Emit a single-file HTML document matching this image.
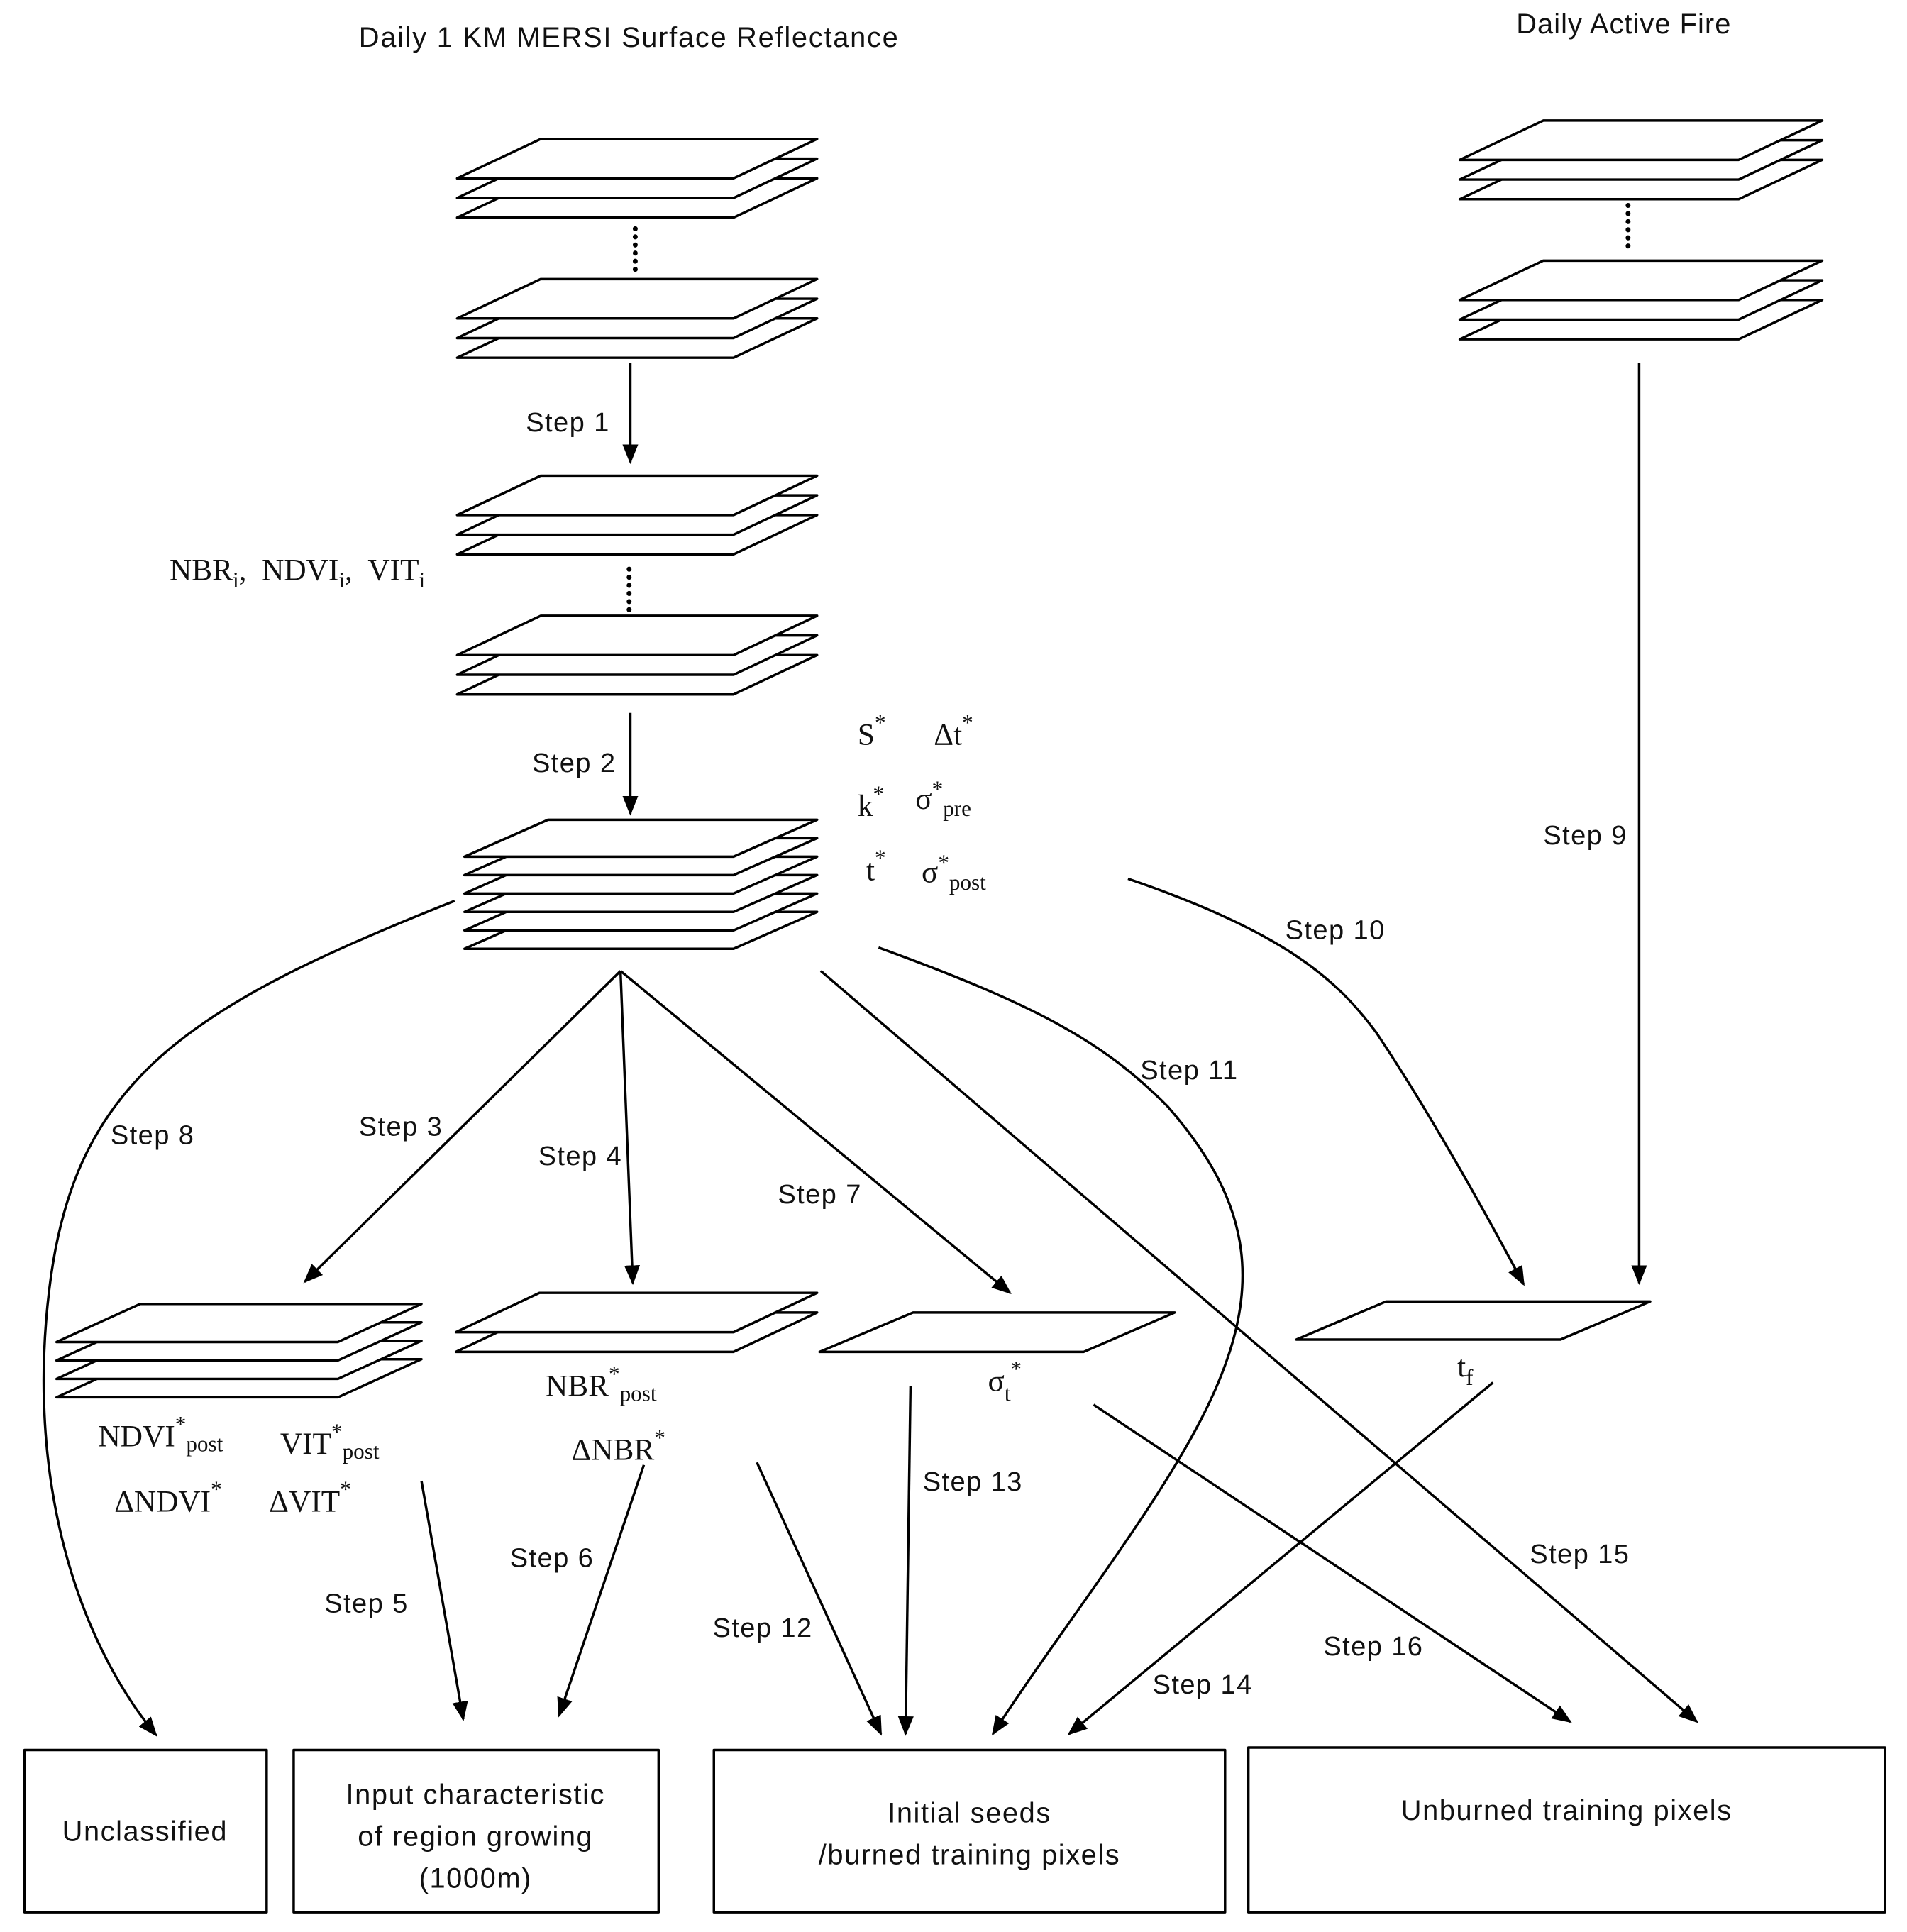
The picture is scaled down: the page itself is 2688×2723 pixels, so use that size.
<!DOCTYPE html>
<html><head><meta charset="utf-8"><style>html,body{margin:0;padding:0;background:#fff}svg{display:block}
.s{font-family:"Liberation Sans",sans-serif;font-size:22px;fill:#111;letter-spacing:0.8px}
.m{font-family:"Liberation Serif",serif;font-size:25px;fill:#111}
.m tspan.sub{font-size:18px}
.b{font-size:23px;letter-spacing:0.9px}
</style></head><body>
<svg width="2688" height="2723" viewBox="0 0 1552 1572" xmlns="http://www.w3.org/2000/svg">
<defs>
<marker id="ah" viewBox="0 0 10 10" refX="9" refY="5" markerWidth="16" markerHeight="16" markerUnits="userSpaceOnUse" orient="auto"><path d="M0,1 L10,5 L0,9 z" fill="#000"/></marker>
</defs>
<g fill="#fff" stroke="#000" stroke-width="2" stroke-linejoin="round">
<path d="M372,177 L440,145 L665,145 L597,177 Z"/><path d="M372,161 L440,129 L665,129 L597,161 Z"/><path d="M372,145 L440,113 L665,113 L597,145 Z"/>
<path d="M372,291 L440,259 L665,259 L597,291 Z"/><path d="M372,275 L440,243 L665,243 L597,275 Z"/><path d="M372,259 L440,227 L665,227 L597,259 Z"/>
<path d="M372,451 L440,419 L665,419 L597,451 Z"/><path d="M372,435 L440,403 L665,403 L597,435 Z"/><path d="M372,419 L440,387 L665,387 L597,419 Z"/>
<path d="M372,565 L440,533 L665,533 L597,565 Z"/><path d="M372,549 L440,517 L665,517 L597,549 Z"/><path d="M372,533 L440,501 L665,501 L597,533 Z"/>
<path d="M378,772 L446,742 L665,742 L597,772 Z"/><path d="M378,757 L446,727 L665,727 L597,757 Z"/><path d="M378,742 L446,712 L665,712 L597,742 Z"/><path d="M378,727 L446,697 L665,697 L597,727 Z"/><path d="M378,712 L446,682 L665,682 L597,712 Z"/><path d="M378,697 L446,667 L665,667 L597,697 Z"/>
<path d="M1188,162 L1256,130 L1483,130 L1415,162 Z"/><path d="M1188,146 L1256,114 L1483,114 L1415,146 Z"/><path d="M1188,130 L1256,98 L1483,98 L1415,130 Z"/>
<path d="M1188,276 L1256,244 L1483,244 L1415,276 Z"/><path d="M1188,260 L1256,228 L1483,228 L1415,260 Z"/><path d="M1188,244 L1256,212 L1483,212 L1415,244 Z"/>
<path d="M46,1137 L114,1106 L343,1106 L275,1137 Z"/><path d="M46,1122 L114,1091 L343,1091 L275,1122 Z"/><path d="M46,1107 L114,1076 L343,1076 L275,1107 Z"/><path d="M46,1092 L114,1061 L343,1061 L275,1092 Z"/>
<path d="M371,1100 L439,1068 L665,1068 L597,1100 Z"/><path d="M371,1084 L439,1052 L665,1052 L597,1084 Z"/>
<path d="M667,1100 L743,1068 L956,1068 L882,1100 Z"/>
<path d="M1055,1090 L1128,1059 L1343,1059 L1270,1090 Z"/>
<rect x="20" y="1424" width="197" height="132"/><rect x="239" y="1424" width="297" height="132"/><rect x="581" y="1424" width="416" height="132"/><rect x="1016" y="1422" width="518" height="134"/>
</g>
<g stroke="#000" stroke-width="4" stroke-dasharray="0.1 6.5" stroke-linecap="round">
<line x1="517" y1="186" x2="517" y2="222"/><line x1="512" y1="463" x2="512" y2="498"/><line x1="1325" y1="167" x2="1325" y2="202"/>
</g>
<g fill="none" stroke="#000" stroke-width="2" marker-end="url(#ah)">
<line x1="513" y1="295" x2="513" y2="376"/>
<line x1="513" y1="580" x2="513" y2="662"/>
<line x1="1334" y1="295" x2="1334" y2="1044"/>
<path d="M370,733 C150,820 60,880 40,1050 C22,1200 60,1330 127,1412"/>
<line x1="505" y1="790" x2="248" y2="1043"/>
<line x1="505" y1="790" x2="515" y2="1044"/>
<line x1="505" y1="790" x2="822" y2="1052"/>
<line x1="668" y1="790" x2="1381" y2="1401"/>
<path d="M715,771 C850,820 900,850 950,900 C1020,980 1030,1050 980,1150 C940,1230 860,1330 808,1411"/>
<path d="M918,715 C1050,760 1090,800 1120,840 C1160,900 1200,970 1240,1045"/>
<line x1="343" y1="1205" x2="377" y2="1399"/>
<line x1="524" y1="1192" x2="455" y2="1396"/>
<line x1="616" y1="1190" x2="717" y2="1411"/>
<line x1="741" y1="1128" x2="737" y2="1411"/>
<line x1="1215" y1="1125" x2="870" y2="1411"/>
<line x1="890" y1="1143" x2="1278" y2="1401"/>
</g>
<g class="s">
<text x="292" y="38" font-size="23" letter-spacing="1">Daily 1 KM MERSI Surface Reflectance</text>
<text x="1234" y="27" font-size="23" letter-spacing="0.6">Daily Active Fire</text>
<text x="428" y="351">Step 1</text><text x="433" y="628">Step 2</text>
<text x="1256" y="687">Step 9</text><text x="1046" y="764">Step 10</text>
<text x="928" y="878">Step 11</text><text x="90" y="931">Step 8</text>
<text x="292" y="924">Step 3</text><text x="438" y="948">Step 4</text>
<text x="633" y="979">Step 7</text><text x="751" y="1213">Step 13</text>
<text x="1245" y="1272">Step 15</text><text x="415" y="1275">Step 6</text>
<text x="264" y="1312">Step 5</text><text x="580" y="1332">Step 12</text>
<text x="1077" y="1347">Step 16</text><text x="938" y="1378">Step 14</text>
<text class="b" x="118" y="1498" text-anchor="middle">Unclassified</text>
<text class="b" x="387" y="1468" text-anchor="middle">Input characteristic</text>
<text class="b" x="387" y="1502" text-anchor="middle">of region growing</text>
<text class="b" x="387" y="1536" text-anchor="middle">(1000m)</text>
<text class="b" x="789" y="1483" text-anchor="middle">Initial seeds</text>
<text class="b" x="789" y="1517" text-anchor="middle">/burned training pixels</text>
<text class="b" x="1275" y="1481" text-anchor="middle">Unburned training pixels</text>
</g>
<g class="m">
<text x="138" y="472">NBR<tspan class="sub" dy="6">i</tspan><tspan dy="-6">,&#160;&#160;NDVI</tspan><tspan class="sub" dy="6">i</tspan><tspan dy="-6">,&#160;&#160;VIT</tspan><tspan class="sub" dy="6">i</tspan></text>
<text x="698" y="606">S<tspan class="sub" dy="-12">*</tspan></text><text x="760" y="606">Δt<tspan class="sub" dy="-12">*</tspan></text>
<text x="698" y="664">k<tspan class="sub" dy="-12">*</tspan></text><text x="745" y="658">σ<tspan class="sub" dy="-10">*</tspan><tspan class="sub" dy="16">pre</tspan></text>
<text x="705" y="716">t<tspan class="sub" dy="-12">*</tspan></text><text x="750" y="718">σ<tspan class="sub" dy="-10">*</tspan><tspan class="sub" dy="16">post</tspan></text>
<text x="80" y="1177">NDVI<tspan class="sub" dy="-12">*</tspan><tspan class="sub" dy="16">post</tspan></text>
<text x="228" y="1183">VIT<tspan class="sub" dy="-12">*</tspan><tspan class="sub" dy="16">post</tspan></text>
<text x="93" y="1230">ΔNDVI<tspan class="sub" dy="-12">*</tspan></text><text x="219" y="1230">ΔVIT<tspan class="sub" dy="-12">*</tspan></text>
<text x="444" y="1136">NBR<tspan class="sub" dy="-12">*</tspan><tspan class="sub" dy="16">post</tspan></text>
<text x="465" y="1188">ΔNBR<tspan class="sub" dy="-12">*</tspan></text>
<text x="804" y="1132">σ<tspan class="sub" dy="8">t</tspan><tspan class="sub" dy="-20">*</tspan></text>
<text x="1186" y="1120">t<tspan class="sub" dy="7">f</tspan></text>
</g>
</svg>
</body></html>
